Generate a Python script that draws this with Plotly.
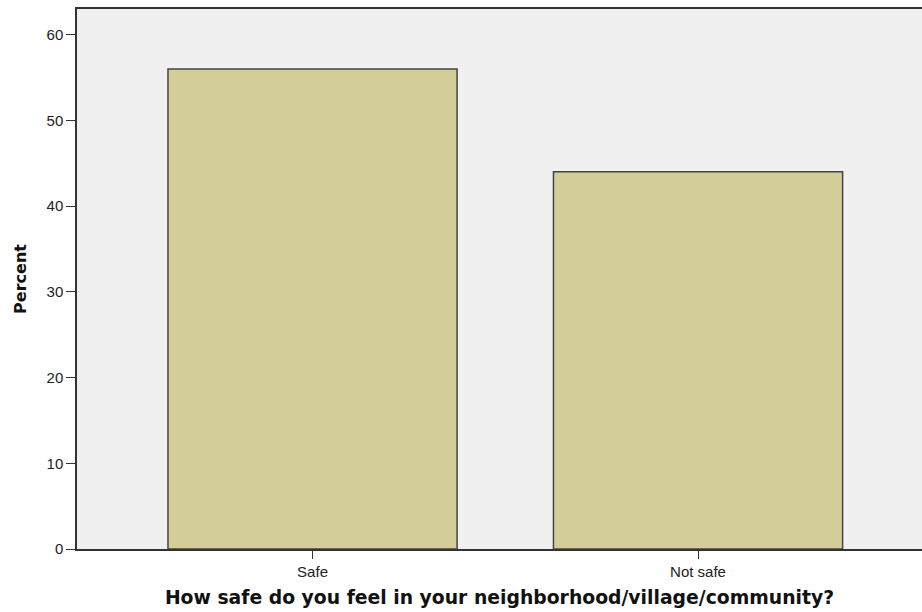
import plotly.graph_objects as go

categories = ["Safe", "Not safe"]
percent = [56, 44]
y_ticks = [0, 10, 20, 30, 40, 50, 60]

fig = go.Figure()
fig.add_trace(go.Bar(
    x=categories, y=percent, width=0.75,
    marker=dict(color="#D3CE97", line=dict(color="#444444", width=1.5)),
))
fig.update_layout(
    width=922, height=612,
    margin=dict(l=77, r=0, t=9, b=63),
    paper_bgcolor="white", plot_bgcolor="#F0F0F0",
    showlegend=False,
    font=dict(family="Liberation Sans, Arial, sans-serif", color="#222222"),
)
fig.update_xaxes(
    range=[-0.611, 1.581], showline=True, linecolor="#333333", linewidth=1.5, mirror=True,
    ticks="outside", ticklen=8, tickcolor="#333333", tickfont=dict(size=15),
    title=dict(text="<b>How safe do you feel in your neighborhood/village/community?</b>",
               font=dict(size=18.8, color="#111111", family="DejaVu Sans, Verdana, sans-serif"),
               standoff=12),
    showgrid=False, zeroline=False,
)
fig.update_yaxes(
    range=[0, 63], tickvals=y_ticks, showline=True, linecolor="#333333", linewidth=1.5,
    ticks="outside", ticklen=9, tickcolor="#333333", tickfont=dict(size=15),
    title=dict(text="<b>Percent</b>",
               font=dict(size=16, color="#111111", family="DejaVu Sans, Verdana, sans-serif"),
               standoff=16),
    showgrid=False, zeroline=False,
)
fig.write_html("out.html", config={"displayModeBar": False},
               post_script="document.body.style.margin='0';")
